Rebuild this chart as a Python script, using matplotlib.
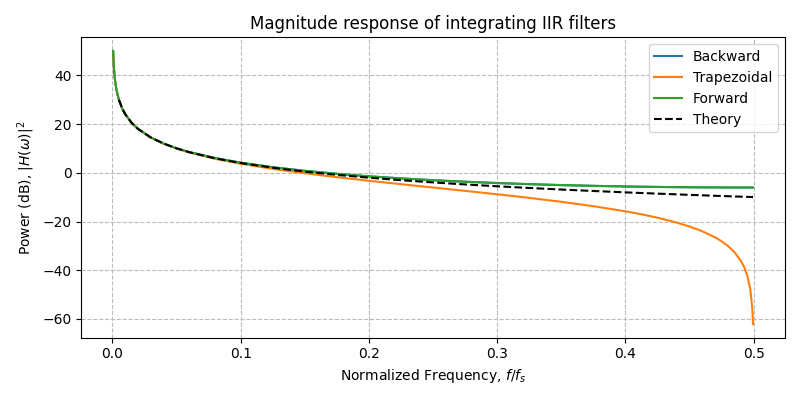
import numpy as np
import matplotlib
matplotlib.use("Agg")
import matplotlib.pyplot as plt

# Normalized frequency samples (f/fs)
freq = [0.0005, 0.001, 0.0015, 0.002, 0.0025, 0.003, 0.004, 0.005, 0.0075,
        0.01, 0.015, 0.02, 0.03, 0.04, 0.05, 0.06, 0.08, 0.1, 0.125, 0.15,
        0.175, 0.2, 0.225, 0.25, 0.275, 0.3, 0.325, 0.35, 0.375, 0.4, 0.4125,
        0.425, 0.4375, 0.45, 0.46, 0.47, 0.475, 0.48, 0.485, 0.49, 0.4925,
        0.495, 0.4975, 0.499, 0.4995]

# Power (dB) (theory curve starts around 30 dB)
nan = np.nan
theory = [nan, nan, nan, nan, nan, nan, nan, 30.06, 26.54,
          24.04, 20.51, 18.02, 14.49, 12.00, 10.06, 8.47, 5.97, 4.04, 2.10, 0.51,
          -0.82, -1.98, -3.01, -3.92, -4.75, -5.51, -6.20, -6.85, -7.44, -8.00, -8.27,
          -8.53, -8.78, -9.03, -9.22, -9.41, -9.50, -9.59, -9.68, -9.77, -9.81,
          -9.86, -9.90, -9.93, -9.93]
backward = [50.06, 44.04, 40.52, 38.02, 36.08, 34.49, 31.99, 30.06, 26.54,
            24.04, 20.51, 18.02, 14.50, 12.02, 10.09, 8.52, 6.07, 4.18, 2.32, 0.84,
            -0.38, -1.41, -2.27, -3.01, -3.64, -4.18, -4.64, -5.02, -5.33, -5.59, -5.69,
            -5.78, -5.85, -5.91, -5.95, -5.98, -5.99, -6.00, -6.01, -6.02, -6.02,
            -6.02, -6.02, -6.02, -6.02]
forward = list(backward)
trapezoidal = [50.06, 44.04, 40.52, 38.02, 36.08, 34.49, 31.99, 30.06, 26.54,
               24.03, 20.50, 18.00, 14.47, 11.95, 9.99, 8.37, 5.79, 3.74, 1.63, -0.16,
               -1.77, -3.25, -4.65, -6.02, -7.39, -8.80, -10.27, -11.88, -13.68, -15.79, -17.01,
               -18.41, -20.05, -22.03, -23.99, -26.51, -28.10, -30.05, -32.55, -36.07, -38.57,
               -42.10, -48.12, -56.08, -62.10]

fig, ax = plt.subplots(figsize=(8, 4), dpi=100)
ax.plot(freq, backward, color="tab:blue", label="Backward")
ax.plot(freq, trapezoidal, color="tab:orange", label="Trapezoidal")
ax.plot(freq, forward, color="tab:green", label="Forward")
ax.plot(freq, theory, "k--", label="Theory")

ax.set_title("Magnitude response of integrating IIR filters")
ax.set_xlabel("Normalized Frequency, $f/f_s$")
ax.set_ylabel("Power (dB), $|H(\\omega)|^2$")
ax.grid(True, linestyle="--", color="#bbbbbb")
ax.legend(loc="upper right")

fig.tight_layout()
fig.savefig("out.png")
